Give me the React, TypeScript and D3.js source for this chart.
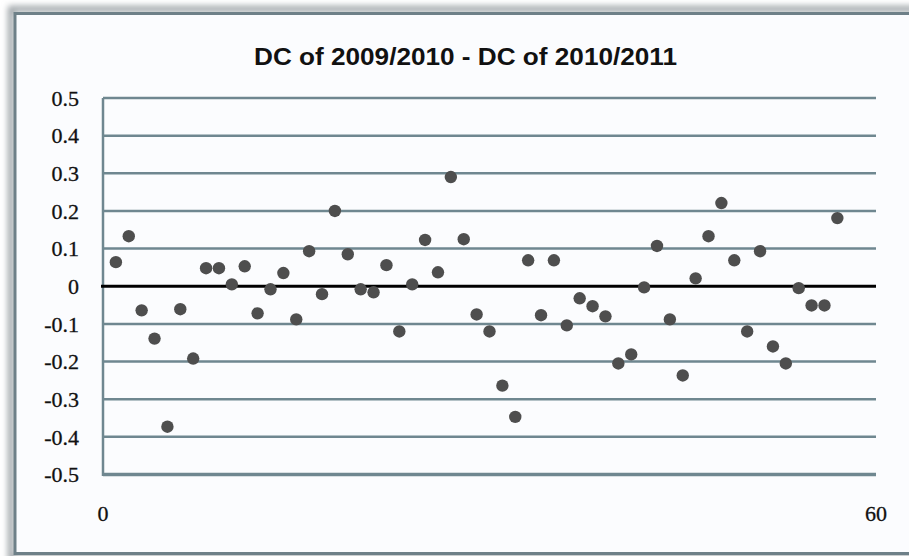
import * as d3 from "d3";
import React from "react";

// x index of each point and its value (DC 2009/2010 minus DC 2010/2011)
const xIndex = [
  1, 2, 3, 4, 5, 6, 7, 8, 9, 10, 11, 12, 13, 14, 15, 16, 17, 18, 19, 20,
  21, 22, 23, 24, 25, 26, 27, 28, 29, 30, 31, 32, 33, 34, 35, 36, 37, 38, 39, 40,
  41, 42, 43, 44, 45, 46, 47, 48, 49, 50, 51, 52, 53, 54, 55, 56, 57,
];
const diffValues = [
  0.064, 0.133, -0.064, -0.139, -0.373, -0.061, -0.192, 0.048, 0.048, 0.005,
  0.053, -0.072, -0.008, 0.035, -0.088, 0.093, -0.021, 0.2, 0.085, -0.008,
  -0.016, 0.056, -0.12, 0.005, 0.123, 0.037, 0.29, 0.125, -0.075, -0.12,
  -0.264, -0.347, 0.069, -0.077, 0.069, -0.104, -0.032, -0.053, -0.08, -0.205,
  -0.181, -0.003, 0.107, -0.088, -0.237, 0.021, 0.133, 0.221, 0.069, -0.12,
  0.093, -0.16, -0.205, -0.005, -0.051, -0.051, 0.181,
];
const yTicks = [0.5, 0.4, 0.3, 0.2, 0.1, 0, -0.1, -0.2, -0.3, -0.4, -0.5];
const xTicks = [0, 60];
const title = "DC of 2009/2010 - DC of 2010/2011";

const W = 909;
const H = 556;
const plot = { left: 103, right: 876, top: 98, bottom: 474.5 };

const gridColor = "#6f8790";
const dotColor = "#4e4e4e";

const App = () => {
  const x = d3.scaleLinear().domain([0, 60]).range([plot.left, plot.right]);
  const y = d3.scaleLinear().domain([-0.5, 0.5]).range([plot.bottom, plot.top]);
  // hyphen-minus like the original, not the unicode minus d3 gives
  const fmt = (v: number) => (v === 0 ? "0" : d3.format(".1f")(v).replace("\u2212", "-"));

  return (
    <div style={{ position: "absolute", left: 0, top: 0, width: W, height: H }}>
      <svg width={W} height={H} style={{ display: "block" }}>
        <defs>
          <filter id="shadow" x="-5%" y="-5%" width="110%" height="110%">
            <feGaussianBlur stdDeviation="3" />
          </filter>
        </defs>
        <rect width={W} height={H} fill="#ffffff" />
        {/* outer frame with soft shadow */}
        <rect x={11} y={9} width={910} height={549} fill="none" stroke="#9aa0a4" strokeWidth={6} filter="url(#shadow)" />
        <rect x={15} y={13.5} width={900} height={540} fill="#fbfcfe" stroke="#6e8088" strokeWidth={3} />

        <text
          x={(254 + 677) / 2}
          y={65}
          textAnchor="middle"
          fontFamily="Liberation Sans, Arial, sans-serif"
          fontWeight="bold"
          fontSize={24}
          textLength={423}
          lengthAdjust="spacingAndGlyphs"
          fill="#111"
        >
          {title}
        </text>

        {/* horizontal gridlines */}
        {yTicks
          .filter((t) => t !== 0)
          .map((t) => (
            <line
              key={t}
              x1={plot.left}
              x2={plot.right}
              y1={y(t)}
              y2={y(t)}
              stroke={gridColor}
              strokeWidth={t === -0.5 ? 3.5 : 2.5}
            />
          ))}
        {/* y axis line */}
        <line x1={plot.left} x2={plot.left} y1={plot.top} y2={plot.bottom + 1.5} stroke={gridColor} strokeWidth={2.5} />
        {/* zero line */}
        <line x1={plot.left - 2} x2={plot.right} y1={y(0)} y2={y(0)} stroke="#000" strokeWidth={3} />

        {yTicks.map((t) => (
          <text
            key={t}
            x={79}
            y={y(t)}
            dy="0.35em"
            textAnchor="end"
            fontFamily="Liberation Serif, Times New Roman, serif"
            fontSize={22}
            stroke="#111"
            strokeWidth={0.3}
            fill="#111"
          >
            {fmt(t)}
          </text>
        ))}
        {xTicks.map((t) => (
          <text
            key={t}
            x={x(t)}
            y={521}
            textAnchor="middle"
            fontFamily="Liberation Serif, Times New Roman, serif"
            fontSize={22}
            stroke="#111"
            strokeWidth={0.3}
            fill="#111"
          >
            {t}
          </text>
        ))}

        {xIndex.map((xi, i) => (
          <circle key={xi} cx={x(xi)} cy={y(diffValues[i])} r={6.2} fill={dotColor} />
        ))}
      </svg>
    </div>
  );
};

export default App;
